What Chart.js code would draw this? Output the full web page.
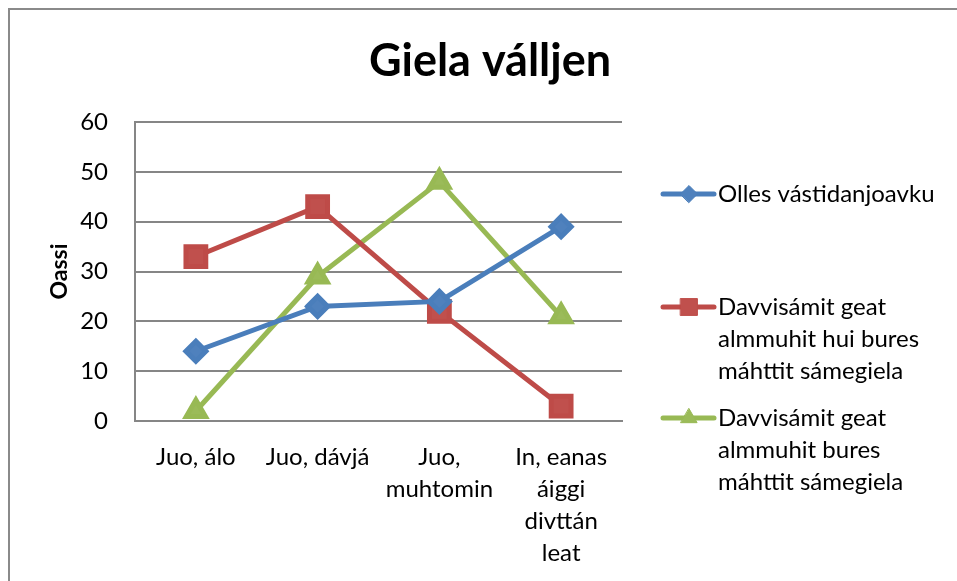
<!DOCTYPE html>
<html>
<head>
<meta charset="utf-8">
<script src="https://cdn.jsdelivr.net/npm/chart.js@4.4.1/dist/chart.umd.min.js"></script>
<style>
  html, body { margin: 0; padding: 0; background: #fff; }
  #wrap { width: 957px; height: 581px; position: relative; }
</style>
</head>
<body>
<div id="wrap"><canvas id="chart" width="957" height="581"></canvas></div>
<script>
// data
var chartTitle = 'Giela válljen';
var yTitle = 'Oassi';
var categories = [['Juo, álo'], ['Juo, dávjá'], ['Juo,', 'muhtomin'], ['In, eanas', 'áiggi', 'divttán', 'leat']];
var seriesNames = [
  'Olles vástidanjoavku',
  'Davvisámit geat almmuhit hui bures máhttit sámegiela',
  'Davvisámit geat almmuhit bures máhttit sámegiela'
];
var legendLines = [
  ['Olles vástidanjoavku'],
  ['Davvisámit geat', 'almmuhit hui bures', 'máhttit sámegiela'],
  ['Davvisámit geat', 'almmuhit bures', 'máhttit sámegiela']
];
var allValues = [14, 23, 24, 39];
var veryWellValues = [33, 43, 22, 3];
var wellValues = [2, 29, 48, 21];
var yTicks = [0, 10, 20, 30, 40, 50, 60];

var FONT = 'Lato, "Open Sans", sans-serif';

// frame, title and the multi-line legend (Excel style)
var decorations = {
  id: 'decorations',
  beforeDraw(chart) {
    var ctx = chart.ctx;
    ctx.save();
    ctx.fillStyle = '#fff';
    ctx.fillRect(0, 0, chart.width, chart.height);
    ctx.strokeStyle = '#8a8a8a';
    ctx.lineWidth = 2;
    ctx.strokeRect(9, 9, 1100, 1100);
    ctx.restore();
  },
  afterDraw(chart) {
    var ctx = chart.ctx;
    ctx.save();
    ctx.fillStyle = '#000';
    ctx.font = 'bold 45px ' + FONT;
    ctx.textAlign = 'center';
    ctx.textBaseline = 'middle';
    ctx.fillText(chartTitle, 490, 61);

    var tops = [194, 307, 418];
    ctx.font = '24px ' + FONT;
    ctx.textAlign = 'left';
    chart.data.datasets.forEach(function(ds, i) {
      var y = tops[i];
      ctx.strokeStyle = ds.borderColor;
      ctx.lineWidth = 5;
      ctx.lineCap = 'round';
      ctx.beginPath();
      ctx.moveTo(663, y);
      ctx.lineTo(714, y);
      ctx.stroke();
      ctx.fillStyle = ds.pointBackgroundColor;
      ctx.strokeStyle = ds.pointBorderColor;
      ctx.lineWidth = 1;
      Chart.helpers.drawPoint(ctx, { pointStyle: ds.pointStyle, radius: ds.pointRadius * 0.85, rotation: 0, borderWidth: 1 }, 689, y);
      ctx.fillStyle = '#000';
      legendLines[i].forEach(function(line, j) {
        ctx.fillText(line, 718, y + j * 32);
      });
    });
    ctx.restore();
  }
};

var ctx = document.getElementById('chart').getContext('2d');
var chart = new Chart(ctx, {
  type: 'line',
  data: {
    labels: categories,
    datasets: [{
      label: seriesNames[0],
      data: allValues,
      borderColor: '#4A7EBB',
      backgroundColor: '#4F81BD',
      pointBackgroundColor: '#4F81BD',
      pointBorderColor: '#4A7EBB',
      pointStyle: 'rectRot',
      pointRadius: 10,
      borderWidth: 5
    }, {
      label: seriesNames[1],
      data: veryWellValues,
      borderColor: '#BE4B48',
      backgroundColor: '#C0504D',
      pointBackgroundColor: '#C0504D',
      pointBorderColor: '#BE4B48',
      pointStyle: 'rect',
      pointRadius: 14,
      borderWidth: 5
    }, {
      label: seriesNames[2],
      data: wellValues,
      borderColor: '#98B954',
      backgroundColor: '#9BBB59',
      pointBackgroundColor: '#9BBB59',
      pointBorderColor: '#98B954',
      pointStyle: 'triangle',
      pointRadius: 11,
      borderWidth: 5
    }]
  },
  options: {
    responsive: false,
    animation: false,
    events: [],
    layout: {
      padding: { left: 37, right: 335, top: 122, bottom: 0 }
    },
    plugins: {
      legend: { display: false },
      title: { display: false },
      tooltip: { enabled: false }
    },
    scales: {
      x: {
        offset: true,
        grid: { display: false, drawTicks: false },
        border: { display: true, color: '#868686', width: 2 },
        ticks: {
          color: '#000',
          font: { family: FONT, size: 24, lineHeight: 1.333 },
          padding: 20,
          maxRotation: 0,
          autoSkip: false
        },
        afterFit: function(scale) { scale.height = 160; }
      },
      y: {
        min: 0,
        max: 60,
        afterBuildTicks: function(scale) {
          scale.ticks = yTicks.map(function(v) { return { value: v }; });
        },
        grid: { color: '#868686', lineWidth: 2, drawTicks: false },
        border: { display: true, color: '#868686', width: 2 },
        ticks: {
          color: '#000',
          font: { family: FONT, size: 24 },
          padding: 27
        },
        title: {
          display: true,
          text: yTitle,
          color: '#000',
          font: { family: FONT, size: 23, weight: 'bold' },
          padding: { top: 9, bottom: 0 }
        },
        afterFit: function(scale) { scale.width = 98; }
      }
    }
  },
  plugins: [decorations]
});
</script>
</body>
</html>
